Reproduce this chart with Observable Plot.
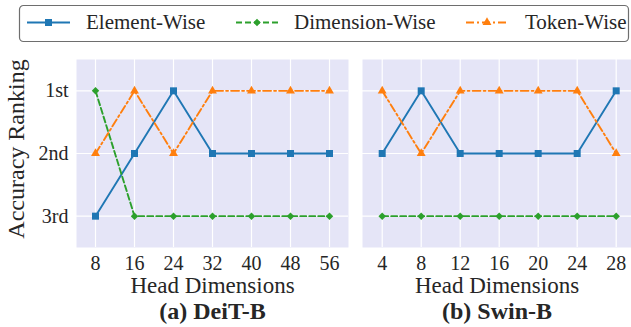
<!DOCTYPE html>
<html><head><meta charset="utf-8">
<script src="https://cdn.jsdelivr.net/npm/d3@7"></script>
<script src="https://cdn.jsdelivr.net/npm/@observablehq/plot@0.6"></script>
<style>
body{margin:0;background:#fff;}
#wrap{position:relative;width:631px;height:327px;overflow:hidden;font-family:"Liberation Serif","Times New Roman",serif;}
#wrap svg{position:absolute;top:0;overflow:visible}
</style></head><body><div id="wrap"></div>
<script>
const seriesNames = ["Element-Wise", "Dimension-Wise", "Token-Wise"];
const seriesColors = ["#1f77b4", "#2ca02c", "#ff7f0e"];
const rankLabels = ["1st", "2nd", "3rd"];
const rankValues = [1, 2, 3];

const deitDims = [8, 16, 24, 32, 40, 48, 56];
const deitElement = [3, 2, 1, 2, 2, 2, 2];
const deitDimension = [1, 3, 3, 3, 3, 3, 3];
const deitToken = [2, 1, 2, 1, 1, 1, 1];

const swinDims = [4, 8, 12, 16, 20, 24, 28];
const swinElement = [2, 1, 2, 2, 2, 2, 1];
const swinDimension = [3, 3, 3, 3, 3, 3, 3];
const swinToken = [1, 2, 1, 1, 1, 1, 2];

const styles = [
  {dash: null, symbol: "square", r: 3.95, d3sym: d3.symbolSquare},
  {dash: "6,3", symbol: "diamond2", r: 3.4, d3sym: d3.symbolDiamond2},
  {dash: "8,3,2,3", symbol: "triangle", r: 3.3, d3sym: d3.symbolTriangle}
];
const bg = "#E5E5F7";
const textColor = "#262626";
const wrap = document.getElementById("wrap");

function panel({dims, values, xDomain, width, left, marginLeft, marginRight, title, yAxis}) {
  const series = values.map((vals, s) => dims.map((d, i) => ({dim: d, rank: vals[i], s})));
  const marks = [
    Plot.frame({fill: bg, stroke: null}),
    Plot.gridX(dims, {stroke: "white", strokeOpacity: 1, strokeWidth: 1.2}),
    Plot.gridY(rankValues, {stroke: "white", strokeOpacity: 1, strokeWidth: 1.2}),
    Plot.axisX(dims, {tickSize: 0, tickPadding: 8, label: null, fontSize: 20, fill: textColor}),
  ];
  if (yAxis) {
    marks.push(Plot.axisY(rankValues, {tickSize: 0, tickPadding: 8, label: null, fontSize: 20, fill: textColor, tickFormat: d => rankLabels[d - 1]}));
    marks.push(Plot.text(["Accuracy Ranking"], {text: d => d, frameAnchor: "left", textAnchor: "middle", lineAnchor: "middle", rotate: -90, dx: -60.5, dy: -4.5, fontSize: 24, fill: textColor}));
  }
  series.forEach((data, s) => {
    marks.push(Plot.line(data, {x: "dim", y: "rank", stroke: seriesColors[s], strokeWidth: 1.9, strokeDasharray: styles[s].dash}));
  });
  series.forEach((data, s) => {
    marks.push(Plot.dot(data, {x: "dim", y: "rank", fill: seriesColors[s], stroke: null, symbol: styles[s].symbol, r: styles[s].r}));
  });
  marks.push(Plot.text(["Head Dimensions"], {text: d => d, frameAnchor: "bottom", lineAnchor: "top", dy: 28.7, fontSize: 23, fill: textColor}));
  marks.push(Plot.text([title], {text: d => d, frameAnchor: "bottom", lineAnchor: "top", dy: 54, fontSize: 24, fontWeight: "bold", fill: textColor}));
  const svg = Plot.plot({
    width, height: 327, marginTop: 59, marginBottom: 80, marginLeft, marginRight,
    style: {fontFamily: "Liberation Serif", fontSize: "20px", color: textColor, background: "transparent", overflow: "visible"},
    x: {domain: xDomain, axis: null},
    y: {domain: [0.5, 3.5], reverse: true, axis: null},
    marks
  });
  svg.style.left = left + "px";
  wrap.appendChild(svg);
}

panel({dims: deitDims, values: [deitElement, deitDimension, deitToken], xDomain: [4.1, 59.9], width: 355, left: 0, marginLeft: 76, marginRight: 7, title: "(a) DeiT-B", yAxis: true});
panel({dims: swinDims, values: [swinElement, swinDimension, swinToken], xDomain: [1.98, 29.57], width: 276, left: 355, marginLeft: 7, marginRight: 0, title: "(b) Swin-B", yAxis: false});

// Legend
const leg = d3.create("svg").attr("width", 631).attr("height", 50).style("left", "0px");
leg.append("rect").attr("x", 19.5).attr("y", 5.5).attr("width", 609).attr("height", 36).attr("rx", 4)
  .attr("fill", "white").attr("stroke", "#6e6e6e").attr("stroke-width", 1.2);
const legendPos = [{x1: 27, x2: 70, tx: 86}, {x1: 236, x2: 278, tx: 294}, {x1: 466, x2: 508, tx: 525}];
seriesNames.forEach((name, s) => {
  const p = legendPos[s], cy = 22.5, st = styles[s];
  leg.append("line").attr("x1", p.x1).attr("x2", p.x2).attr("y1", cy).attr("y2", cy)
    .attr("stroke", seriesColors[s]).attr("stroke-width", 1.9).attr("stroke-dasharray", st.dash);
  leg.append("path").attr("d", d3.symbol(st.d3sym, Math.PI * st.r * st.r)())
    .attr("transform", `translate(${(p.x1 + p.x2) / 2},${cy})`).attr("fill", seriesColors[s]);
  leg.append("text").attr("x", p.tx).attr("y", 29).attr("fill", textColor)
    .attr("font-family", "Liberation Serif").attr("font-size", 21).text(name);
});
wrap.appendChild(leg.node());
</script></body></html>
